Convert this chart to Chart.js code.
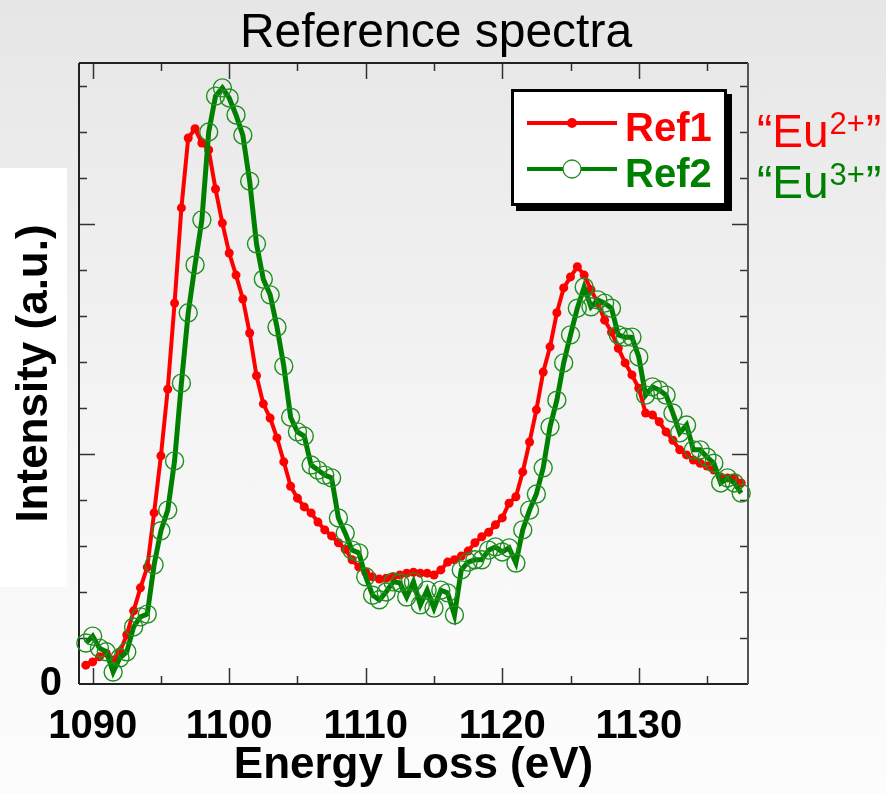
<!DOCTYPE html>
<html>
<head>
<meta charset="utf-8">
<script src="https://cdn.jsdelivr.net/npm/chart.js@4/dist/chart.umd.min.js"></script>
<style>
  html, body { margin: 0; padding: 0; }
  body {
    width: 886px; height: 794px; overflow: hidden; position: relative;
    background: linear-gradient(to bottom, #e6e6e6 0px, #ececec 170px, #f4f4f4 420px, #fafafa 650px, #fcfcfc 794px);
  }
  #whitebox { position: absolute; left: 0; top: 168px; width: 67px; height: 419px; background: #ffffff; }
  #c { position: absolute; left: 0; top: 0; }
</style>
</head>
<body>
<div id="whitebox"></div>
<canvas id="c" width="886" height="794"></canvas>
<script>
// ---- data ----
const energy = [
  1089.5,1090,1090.5,1091,1091.5,1092,1092.5,1093,1093.5,1094,1094.5,1095,1095.5,1096,1096.5,1097,1097.5,1098,1098.5,1099,1099.5,
  1100,1100.5,1101,1101.5,1102,1102.5,1103,1103.5,1104,1104.5,1105,1105.5,1106,1106.5,1107,1107.5,1108,1108.5,1109,1109.5,
  1110,1110.5,1111,1111.5,1112,1112.5,1113,1113.5,1114,1114.5,1115,1115.5,1116,1116.5,1117,1117.5,1118,1118.5,1119,1119.5,
  1120,1120.5,1121,1121.5,1122,1122.5,1123,1123.5,1124,1124.5,1125,1125.5,1126,1126.5,1127,1127.5,1128,1128.5,1129,1129.5,
  1130,1130.5,1131,1131.5,1132,1132.5,1133,1133.5,1134,1134.5,1135,1135.5,1136,1136.5,1137,1137.5
];
const ref1 = [
  0.41,0.48,0.59,0.67,0.52,0.70,1.07,1.59,2.09,2.54,3.72,4.96,6.41,8.28,10.35,11.87,12.07,11.76,11.61,10.76,10.02,
  9.37,8.89,8.37,7.63,6.70,6.09,5.78,5.35,4.83,4.30,4.04,3.85,3.72,3.52,3.35,3.22,3.07,2.93,2.70,2.54,
  2.43,2.33,2.28,2.30,2.33,2.37,2.41,2.43,2.41,2.41,2.37,2.48,2.65,2.70,2.78,2.89,3.07,3.20,3.30,3.46,
  3.61,3.93,4.07,4.61,5.26,5.96,6.78,7.33,8.07,8.61,8.85,9.07,8.89,8.57,8.28,7.91,7.65,7.30,6.98,6.72,
  6.43,5.89,5.85,5.70,5.48,5.30,5.09,4.98,4.87,4.80,4.74,4.65,4.50,4.48,4.48,4.37
];
const ref2 = [
  0.89,1.04,0.78,0.70,0.26,0.57,0.70,1.24,1.46,1.52,2.59,3.33,3.78,4.85,6.54,8.07,9.11,10.09,12.00,12.78,12.96,
  12.74,12.37,11.93,10.93,9.57,8.80,8.46,7.76,6.91,5.80,5.48,5.39,4.76,4.65,4.54,4.48,3.61,3.28,2.91,2.85,
  2.33,1.93,1.83,2.00,2.22,2.20,1.89,2.22,1.72,2.04,1.65,2.04,1.98,1.50,2.48,2.65,2.70,2.70,2.91,2.98,
  2.87,2.96,2.63,3.35,3.78,4.13,4.70,5.59,6.17,6.98,7.59,8.17,8.63,8.20,8.35,8.28,8.17,7.59,7.54,7.54,
  7.11,6.28,6.46,6.39,6.28,5.89,5.46,5.63,5.09,5.09,4.93,4.80,4.37,4.48,4.37,4.15
];
const seriesNames = ['Ref1', 'Ref2'];
const chartTitle = 'Reference spectra';
const sideNotes = [['\u201cEu', '2+', '\u201d'], ['\u201cEu', '3+', '\u201d']];
const xTickLabels = [1090, 1100, 1110, 1120, 1130];
const xTickMarks = [1090, 1095, 1100, 1105, 1110, 1115, 1120, 1125, 1130, 1135];
const yTickLabels = [0];
const yTickMarks = [1,2,3,4,5,6,7,8,9,10,11,12,13];

const FONT = "'Liberation Sans', Arial, Helvetica, sans-serif";
const RED = '#ff0000';
const GREEN = '#008000';

const framePlugin = {
  id: 'frameTicks',
  beforeDatasetsDraw(chart) {
    const { ctx, chartArea: a, scales: { x, y } } = chart;
    ctx.save();
    ctx.strokeStyle = '#333';
    ctx.lineWidth = 1.5;
    ctx.beginPath();
    for (const v of xTickMarks) {
      const px = Math.round(x.getPixelForValue(v)) + 0.5;
      const len = v % 10 === 0 ? 16 : 8;
      ctx.moveTo(px, a.bottom); ctx.lineTo(px, a.bottom - len);
      ctx.moveTo(px, a.top); ctx.lineTo(px, a.top + len);
    }
    for (const v of yTickMarks) {
      const py = Math.round(y.getPixelForValue(v)) + 0.5;
      const len = v % 5 === 0 ? 16 : 8;
      ctx.moveTo(a.left, py); ctx.lineTo(a.left + len, py);
      ctx.moveTo(a.right, py); ctx.lineTo(a.right - len, py);
    }
    ctx.stroke();
    ctx.lineWidth = 2;
    ctx.strokeStyle = '#222';
    ctx.beginPath();
    ctx.moveTo(a.left, a.top); ctx.lineTo(a.right, a.top);
    ctx.moveTo(a.left, a.top); ctx.lineTo(a.left, a.bottom);
    ctx.moveTo(a.left, a.bottom); ctx.lineTo(a.right, a.bottom);
    ctx.stroke();
    ctx.strokeStyle = '#555';
    ctx.beginPath();
    ctx.moveTo(a.right, a.top); ctx.lineTo(a.right, a.bottom);
    ctx.stroke();
    // title
    ctx.fillStyle = '#000';
    ctx.font = '48px ' + FONT;
    ctx.textAlign = 'center';
    ctx.textBaseline = 'alphabetic';
    ctx.fillText(chartTitle, 436, 47);
    ctx.restore();
  }
};

const legendPlugin = {
  id: 'boxLegend',
  afterDraw(chart) {
    const { ctx } = chart;
    const bx = 511, by = 89, bw = 216, bh = 117;
    ctx.save();
    ctx.fillStyle = '#000';
    ctx.fillRect(bx + 5, by + 5, bw, bh);
    ctx.fillStyle = '#fff';
    ctx.fillRect(bx, by, bw, bh);
    ctx.lineWidth = 3;
    ctx.strokeStyle = '#000';
    ctx.strokeRect(bx + 1.5, by + 1.5, bw - 3, bh - 3);
    const rows = [123, 169];
    chart.data.datasets.forEach((ds, i) => {
      const yy = rows[i];
      ctx.strokeStyle = ds.borderColor;
      ctx.lineWidth = 4;
      ctx.beginPath(); ctx.moveTo(527, yy); ctx.lineTo(617, yy); ctx.stroke();
      ctx.beginPath();
      if (i === 0) {
        ctx.fillStyle = ds.pointBackgroundColor;
        ctx.arc(572, yy, 5, 0, Math.PI * 2); ctx.fill();
      } else {
        ctx.fillStyle = '#fff';
        ctx.arc(572, yy, 9, 0, Math.PI * 2); ctx.fill();
        ctx.lineWidth = 1.3; ctx.strokeStyle = ds.pointBorderColor; ctx.stroke();
      }
      ctx.fillStyle = ds.borderColor;
      ctx.font = 'bold 40px ' + FONT;
      ctx.textBaseline = 'alphabetic';
      ctx.textAlign = 'left';
      ctx.fillText(ds.label, 625, yy + 18);
    });
    // side notes
    const baselines = [147, 198];
    const colors = [RED, GREEN];
    sideNotes.forEach((parts, i) => {
      let xx = 757;
      const bl = baselines[i];
      ctx.fillStyle = colors[i];
      ctx.textAlign = 'left';
      ctx.textBaseline = 'alphabetic';
      ctx.font = '46px ' + FONT;
      ctx.fillText(parts[0], xx, bl); xx += ctx.measureText(parts[0]).width + 1;
      ctx.font = '31px ' + FONT;
      ctx.fillText(parts[1], xx, bl - 13); xx += ctx.measureText(parts[1]).width + 1;
      ctx.font = '46px ' + FONT;
      ctx.fillText(parts[2], xx, bl);
    });
    ctx.restore();
  }
};

const ctx = document.getElementById('c').getContext('2d');
new Chart(ctx, {
  type: 'line',
  data: {
    datasets: [
      {
        label: seriesNames[0],
        data: energy.map((e, i) => ({ x: e, y: ref1[i] })),
        borderColor: RED, backgroundColor: RED,
        borderWidth: 4, tension: 0,
        pointRadius: 4.5, pointBorderWidth: 0,
        pointBackgroundColor: RED, pointBorderColor: RED,
        order: 1, clip: false
      },
      {
        label: seriesNames[1],
        data: energy.map((e, i) => ({ x: e, y: ref2[i] })),
        borderColor: GREEN, backgroundColor: 'rgba(0,0,0,0)',
        borderWidth: 5, tension: 0,
        pointRadius: 9, pointBorderWidth: 1.4,
        pointBackgroundColor: 'rgba(0,0,0,0)', pointBorderColor: '#1f8f1f',
        order: 0, clip: false
      }
    ]
  },
  options: {
    responsive: false,
    animation: false,
    devicePixelRatio: 1,
    layout: { padding: { left: 0, right: 138, top: 63, bottom: 0 } },
    plugins: {
      legend: { display: false },
      tooltip: { enabled: false },
      title: { display: false }
    },
    scales: {
      x: {
        type: 'linear', min: 1089, max: 1138,
        afterBuildTicks: s => { s.ticks = xTickLabels.map(v => ({ value: v })); },
        afterFit: s => { s.height = 110; },
        grid: { display: false, drawTicks: false },
        border: { display: false },
        ticks: {
          color: '#000', padding: 19, maxRotation: 0, autoSkip: false,
          font: { family: FONT, size: 40, weight: 'bold' },
          callback: v => String(v)
        },
        title: {
          display: true, text: 'Energy Loss (eV)', color: '#000',
          font: { family: FONT, size: 44, weight: 'bold' },
          padding: { top: 0, bottom: 2 }
        }
      },
      y: {
        type: 'linear', min: 0, max: 13.5,
        afterBuildTicks: s => { s.ticks = yTickLabels.map(v => ({ value: v })); },
        afterFit: s => { s.width = 79; },
        grid: { display: false, drawTicks: false },
        border: { display: false },
        ticks: {
          color: '#000', padding: 17,
          font: { family: FONT, size: 40, weight: 'bold' },
          callback: v => String(v)
        },
        title: {
          display: true, text: 'Intensity (a.u.)', color: '#000',
          font: { family: FONT, size: 44, weight: 'bold' },
          padding: { top: 8, bottom: 0 }
        }
      }
    }
  },
  plugins: [framePlugin, legendPlugin]
});
</script>
</body>
</html>
